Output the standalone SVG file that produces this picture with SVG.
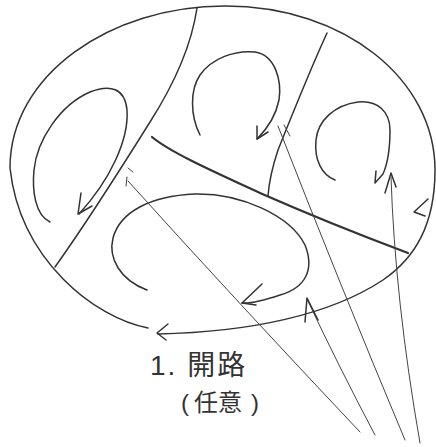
<svg xmlns="http://www.w3.org/2000/svg" width="436" height="447" viewBox="0 0 436 447">
<style>
.s{fill:none;stroke:#333;stroke-width:1.5;stroke-linecap:round;stroke-linejoin:round}
.t{fill:none;stroke:#333;stroke-width:2.2;stroke-linecap:round}
.p{fill:none;stroke:#444;stroke-width:1;stroke-linecap:round;stroke-linejoin:round}
.lbl{font-family:"Liberation Sans","Noto Sans CJK JP",sans-serif;fill:#333}
</style>
<rect width="436" height="447" fill="#fff"/>
<g id="boundary">
<path class="s" d="M148,328 C95,318 20,260 10,168 C10,75 110,6 225,6 C345,6 435,80 435,170 C435,225 415,258 383,280 C330,315 250,332 158,334"/>
<path class="s" d="M168,324 L157,333 L166,340"/>
</g>
<g id="dividers">
<path class="s" d="M197,8 C193,35 180,75 150,122 C120,170 85,225 55,267"/>
<path class="s" d="M327,33 C310,70 290,120 278,150 C272,168 269,182 268,196"/>
<path class="t" d="M152,137 C170,152 210,170 260,193 C310,215 360,235 408,253"/>
</g>
<g id="swirl-left">
<path class="s" d="M50,222 C35,215 32,190 34,170 C37,140 60,105 90,92 C110,84 125,88 127,110 C129,140 110,180 79,214"/>
<path class="s" d="M81,193 L78,214 L92,206"/>
</g>
<g id="swirl-top">
<path class="s" d="M200,135 C190,115 190,90 200,75 C212,58 235,50 255,52 C275,55 282,80 279,100 C276,115 268,128 257,139"/>
<path class="s" d="M257,126 L257,139 L268,132"/>
</g>
<g id="swirl-right">
<path class="s" d="M335,180 C322,175 314,160 316,140 C318,120 335,105 358,102 C378,100 390,112 390,130 C390,150 387,165 383,174 L375,183 L376,171"/>
</g>
<g id="swirl-bottom">
<path class="s" d="M147,290 C120,280 108,258 113,238 C120,212 150,196 195,194 C240,193 290,215 305,245 C315,270 305,288 280,295 C265,300 252,304 242,303"/>
<path class="s" d="M262,284 L242,303 L256,305"/>
</g>
<g id="connectors">
<path class="p" d="M360,432 Q240,305 128,181"/>
<path class="p" d="M126,186 L127,177 M128,168 L133,172"/>
<path class="p" d="M375,435 Q338,365 307,299"/>
<path class="s" d="M305,322 L307,298 L318,320"/>
<path class="p" d="M405,440 Q340,285 278,126"/>
<path class="p" d="M284,125 L290,136"/>
<path class="p" d="M420,443 Q395,300 391,177"/>
<path class="s" d="M385,193 L391,173 L396,187"/>
<path class="s" d="M428,199 L414,212 L425,216"/>
</g>
<g id="label">
<text class="lbl" x="150" y="375" font-size="28" letter-spacing="2">1. 開路</text>
<text class="lbl" x="181" y="411" font-size="24">(<tspan dx="5">任意</tspan><tspan dx="9">)</tspan></text>
</g>
</svg>
